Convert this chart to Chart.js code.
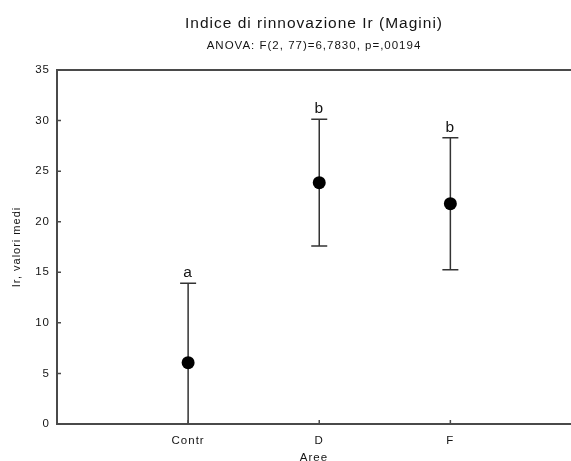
<!DOCTYPE html>
<html>
<head>
<meta charset="utf-8">
<script src="https://cdn.jsdelivr.net/npm/chart.js@4"></script>
<style>
  html, body { margin: 0; padding: 0; background: #fff; overflow: hidden; }
  #chart { display: block; }
</style>
</head>
<body>
<canvas id="chart" width="571" height="461"></canvas>
<script>
// group means with their interval limits
const categories = ['Contr', 'D', 'F'];
const means = [6.06, 23.86, 21.78];
const upperLimits = [13.91, 30.13, 28.31];
const lowerLimits = [-1.79, 17.59, 15.25];
const groupLetters = ['a', 'b', 'b'];

const FONT = "'Liberation Sans', Arial, sans-serif";
const INK = '#141414';
const AXIS = '#4a4a4a';

// error bars, letters, inside ticks and the top frame line
const errorBars = {
    id: 'errorBars',
    beforeDraw(chart) {
        // the original text is set a bit loose
        chart.ctx.letterSpacing = '1px';
    },
    beforeDatasetsDraw(chart) {
        const { ctx, chartArea: a, scales: { x, y } } = chart;
        ctx.save();
        ctx.beginPath();
        ctx.rect(a.left, a.top, a.right - a.left, a.bottom - a.top);
        ctx.clip();
        ctx.strokeStyle = '#333';
        ctx.lineWidth = 1.5;
        categories.forEach((c, i) => {
            const px = x.getPixelForValue(i + 1);
            const hi = y.getPixelForValue(upperLimits[i]);
            const lo = y.getPixelForValue(lowerLimits[i]);
            ctx.beginPath();
            ctx.moveTo(px, lo);
            ctx.lineTo(px, hi);
            ctx.moveTo(px - 8, hi);
            ctx.lineTo(px + 8, hi);
            ctx.moveTo(px - 8, lo);
            ctx.lineTo(px + 8, lo);
            ctx.stroke();
        });
        ctx.restore();
    },
    afterDatasetsDraw(chart) {
        const { ctx, chartArea: a, scales: { x, y } } = chart;
        ctx.save();
        // letters above the bars
        ctx.fillStyle = INK;
        ctx.font = `15.5px ${FONT}`;
        ctx.textAlign = 'center';
        ctx.textBaseline = 'alphabetic';
        groupLetters.forEach((t, i) => {
            ctx.fillText(t, x.getPixelForValue(i + 1), y.getPixelForValue(upperLimits[i]) - 6);
        });
        // top frame
        ctx.strokeStyle = AXIS;
        ctx.lineWidth = 2;
        ctx.beginPath();
        ctx.moveTo(a.left, a.top);
        ctx.lineTo(a.right, a.top);
        ctx.stroke();
        // ticks pointing inside
        ctx.lineWidth = 1.5;
        ctx.beginPath();
        y.ticks.forEach(t => {
            const py = y.getPixelForValue(t.value);
            ctx.moveTo(a.left, py);
            ctx.lineTo(a.left + 4, py);
        });
        x.ticks.forEach(t => {
            const px = x.getPixelForValue(t.value);
            ctx.moveTo(px, a.bottom);
            ctx.lineTo(px, a.bottom - 4);
        });
        ctx.stroke();
        ctx.restore();
    }
};

new Chart(document.getElementById('chart'), {
    type: 'scatter',
    data: {
        datasets: [{
            data: means.map((m, i) => ({ x: i + 1, y: m })),
            backgroundColor: '#000',
            borderWidth: 0,
            pointRadius: 6.5,
            pointHoverRadius: 6.5
        }]
    },
    options: {
        responsive: false,
        animation: false,
        layout: { padding: 0, autoPadding: false },
        plugins: {
            legend: { display: false },
            tooltip: { enabled: false },
            title: {
                display: true,
                text: 'Indice di rinnovazione Ir (Magini)',
                fullSize: false,
                color: INK,
                font: { family: FONT, size: 15.5, weight: 'normal' },
                padding: { top: 14, bottom: 6.4 }
            },
            subtitle: {
                display: true,
                text: 'ANOVA: F(2, 77)=6,7830, p=,00194',
                fullSize: false,
                color: INK,
                font: { family: FONT, size: 11.5 },
                padding: { top: 0, bottom: 17.2 }
            }
        },
        scales: {
            x: {
                type: 'linear',
                min: 0,
                max: 3.92,
                afterBuildTicks: s => { s.ticks = categories.map((c, i) => ({ value: i + 1 })); },
                afterFit: s => { s.height = 37; },
                grid: { display: false, drawTicks: false },
                border: { color: AXIS, width: 2 },
                ticks: {
                    color: INK,
                    padding: 10,
                    maxRotation: 0,
                    font: { family: FONT, size: 11.5 },
                    callback: v => categories[v - 1] ?? ''
                },
                title: {
                    display: true,
                    text: 'Aree',
                    color: INK,
                    font: { family: FONT, size: 11.5 },
                    padding: { top: 0, bottom: -4 }
                }
            },
            y: {
                min: 0,
                max: 35,
                afterFit: s => { s.width = 57; },
                grid: { display: false, drawTicks: false },
                border: { color: AXIS, width: 2 },
                ticks: {
                    stepSize: 5,
                    color: INK,
                    padding: 7,
                    font: { family: FONT, size: 11.5 }
                },
                title: {
                    display: true,
                    text: 'Ir, valori medi',
                    color: INK,
                    font: { family: FONT, size: 11 },
                    padding: { top: 10, bottom: 0 }
                }
            }
        }
    },
    plugins: [errorBars]
});
</script>
</body>
</html>
